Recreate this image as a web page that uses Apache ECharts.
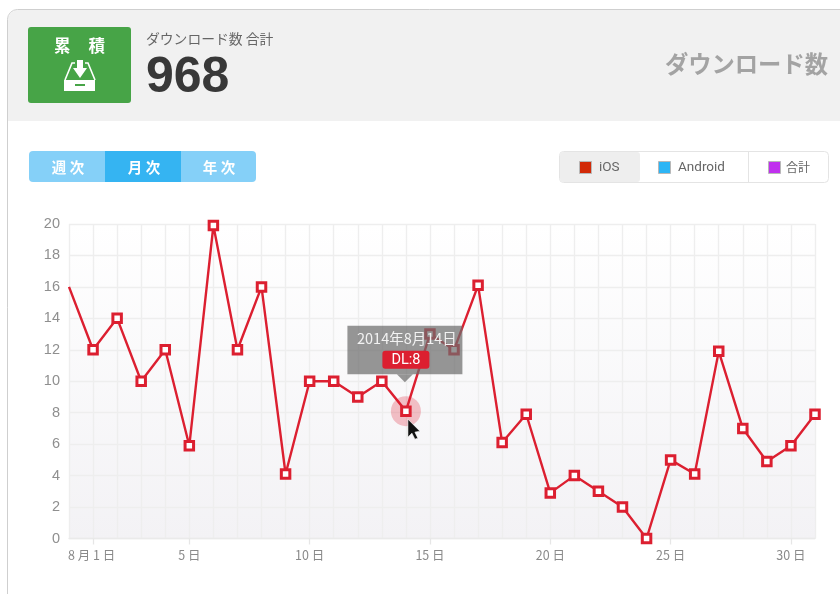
<!DOCTYPE html>
<html><head><meta charset="utf-8">
<style>html,body{margin:0;padding:0;background:#fff}#c{width:840px;height:594px}</style>
<script src="https://cdn.jsdelivr.net/npm/echarts@6/dist/echarts.min.js"></script>
</head><body><div id="c"></div>
<script>
const days = ['0','1','2','3','4','5','6','7','8','9','10','11','12','13','14','15','16','17','18','19','20','21','22','23','24','25','26','27','28','29','30','31'];
const labelledDays = ['1','5','10','15','20','25','30'];
const iosValues = [16,12,14,10,12,5.9,19.9,12,16,4.1,10,10,9,10,8.1,13,12,16.1,6.1,7.9,2.9,4,3,2,0,5,4.1,11.9,7,4.9,5.9,7.9];
const hoverDay = '14';
const tipDate = '2014年8月14日';
const tipLabel = 'DL:8';
const totalValue = '968';
const periods = ['週 次','月 次','年 次'];
const legendNames = ['iOS','Android','合計'];
const legendColors = ['#d22a08','#2db5f5','#c030ee'];

const F = '"Noto Sans CJK JP","Liberation Sans",sans-serif';
const LAT = '"Roboto","Noto Sans CJK JP",sans-serif';
const hoverIdx = days.indexOf(hoverDay);
const chart = echarts.init(document.getElementById('c'), null, {renderer:'canvas'});

function txt(x,y,text,size,fill,extra){return {type:'text',z:10,silent:true,style:{x,y,text,font:`${(extra&&extra.weight)||'normal'} ${size}px ${(extra&&extra.family)||F}`,fill,align:(extra&&extra.align)||'left',verticalAlign:'middle'}};}
function rect(x,y,w,h,fill,r,stroke){return {type:'rect',z:5,silent:true,shape:{x,y,width:w,height:h,r:r||0},style:{fill,stroke:stroke||null,lineWidth:stroke?1:0}};}
function poly(points,fill){return {type:'polygon',z:6,silent:true,shape:{points},style:{fill}};}

const chrome = [
  // card
  rect(8,10,900,111,'#f1f1f1',[10,0,0,0]),
  rect(7.5,9.5,900,800,'transparent',10,'#cfcfcf'),
  // badge
  rect(28,27,103,76,'#47a447',3),
  txt(54,45.5,'累',16.5,'#fff',{weight:'bold'}), txt(88.5,45.5,'積',16.5,'#fff',{weight:'bold'}),
  poly([[64,80],[95,80],[95,91],[64,91]],'#fff'),
  {type:'polyline',z:6,silent:true,shape:{points:[[65,80],[72,63],[75,63]]},style:{fill:'none',stroke:'#fff',lineWidth:1.6}},
  {type:'polyline',z:6,silent:true,shape:{points:[[85,63],[88,63],[95,80]]},style:{fill:'none',stroke:'#fff',lineWidth:1.6}},
  poly([[77,60],[83,60],[83,68],[87,68],[80,78],[73,68],[77,68]],'#fff'),
  Object.assign(rect(75,84,10,2,'#47a447'),{z:7}),
  txt(146,39,'ダウンロード数 合計',13.8,'#666'),
  txt(146,78,totalValue,50,'#383838',{weight:'bold',family:'"Liberation Sans",sans-serif'}),
  txt(828,64,'ダウンロード数',23.3,'#a3a3a3',{weight:'bold',align:'right'}),
  // period buttons
  rect(29,151,227,31,'#85d0f8',4),
  Object.assign(rect(105,151,76,31,'#35b4f2'),{z:6}),
  txt(68,167,periods[0],14.5,'#fff',{align:'center',weight:'bold'}),
  txt(144,167,periods[1],14.5,'#fff',{align:'center',weight:'bold'}),
  txt(219,167,periods[2],14.5,'#fff',{align:'center',weight:'bold'}),
  // legend
  rect(559.5,151.5,269,31,'#fff',4,'#e4e4e4'),
  Object.assign(rect(560,152,80,30,'#eeeeee',3),{z:6}),
  {type:'line',z:6,silent:true,shape:{x1:748.5,y1:152,x2:748.5,y2:182},style:{stroke:'#e4e4e4',lineWidth:1}},
  Object.assign(rect(579.5,161.5,12,12,legendColors[0],0,'#b8b8b8'),{z:7}),
  Object.assign(rect(658.5,161.5,12,12,legendColors[1],0,'#b8b8b8'),{z:7}),
  Object.assign(rect(768.5,161.5,12,12,legendColors[2],0,'#b8b8b8'),{z:7}),
  txt(599,168,legendNames[0],13.5,'#666',{family:LAT}),
  txt(678,168,legendNames[1],13.5,'#666',{family:LAT}),
  txt(786,167.5,legendNames[2],12,'#666')
];

function xLabel(v){ return v==='1' ? '8 月 1 日 ' : v+' 日'; }
const gridBg = new echarts.graphic.LinearGradient(0,0,0,1,[{offset:0,color:'#ffffff'},{offset:1,color:'#f3f2f5'}]);

chart.setOption({
  animation:false,
  graphic:{elements:chrome},
  grid:{left:69,right:25,top:224,bottom:55.5,show:true,backgroundColor:gridBg,borderWidth:0},
  xAxis:{type:'category',data:days,boundaryGap:false,
    axisLine:{show:true,lineStyle:{color:'#eaeaea',width:1.3}},
    axisTick:{show:true,length:6,lineStyle:{color:'#e6e6e6',width:1.3},interval:(i,v)=>labelledDays.includes(v)},
    axisLabel:{color:'#8a8a8a',fontSize:12.5,fontFamily:F,margin:10,interval:(i,v)=>labelledDays.includes(v),formatter:xLabel},
    splitLine:{show:true,interval:0,lineStyle:{color:'#eeeeee',width:1.4}}},
  yAxis:{type:'value',min:0,max:20,interval:2,
    axisLine:{show:false},axisTick:{show:false},
    axisLabel:{color:'#8f8f8f',fontSize:14.5,fontFamily:'"Liberation Sans",sans-serif',margin:9},
    splitLine:{show:true,lineStyle:{color:'#eeeeee',width:1.4}}},
  series:[
    {type:'custom',z:1,silent:true,clip:false,data:[[hoverIdx,iosValues[hoverIdx]]],
      renderItem:(p,api)=>{const c=api.coord([api.value(0),api.value(1)]);
        return {type:'circle',shape:{cx:c[0],cy:c[1],r:15},style:{fill:'rgba(222,40,60,0.28)'}};}},
    {type:'line',z:2,clip:false,silent:true,
      data:iosValues.map((v,i)=>i===0?{value:v,symbol:'none'}:v),
      symbol:'rect',symbolSize:8.5,showAllSymbol:true,
      lineStyle:{color:'#dc1f30',width:2.4},
      itemStyle:{color:'#fff',borderColor:'#dc1f30',borderWidth:3,opacity:1}},
    {type:'custom',z:5,silent:true,clip:false,data:[[hoverIdx,iosValues[hoverIdx]]],
      renderItem:(p,api)=>{const c=api.coord([api.value(0),api.value(1)]);const x=c[0],y=c[1];
        return {type:'group',children:[
          {type:'rect',shape:{x:x-58.5,y:y-85.5,width:115,height:48.5},style:{fill:'rgba(110,110,110,0.72)'}},
          {type:'polygon',shape:{points:[[x-9,y-37],[x+7,y-37],[x-1,y-29]]},style:{fill:'rgba(110,110,110,0.72)'}},
          {type:'text',style:{x:x+1,y:y-72.5,text:tipDate,fill:'#f2f2f2',font:'14.5px '+F,align:'center',verticalAlign:'middle'}},
          {type:'rect',shape:{x:x-23.5,y:y-60.5,width:47,height:18,r:3},style:{fill:'#dc1f30'}},
          {type:'text',style:{x:x,y:y-51,text:tipLabel,fill:'#fff',font:'14.5px '+LAT,align:'center',verticalAlign:'middle'}},
          {type:'polygon',shape:{points:[[x+2,y+8],[x+2,y+26],[x+6,y+22],[x+9,y+28],[x+12,y+27],[x+9,y+21],[x+14,y+20]]},style:{fill:'#111',stroke:'#fff',lineWidth:0.6}}
        ]};}}
  ]
});
</script></body></html>
